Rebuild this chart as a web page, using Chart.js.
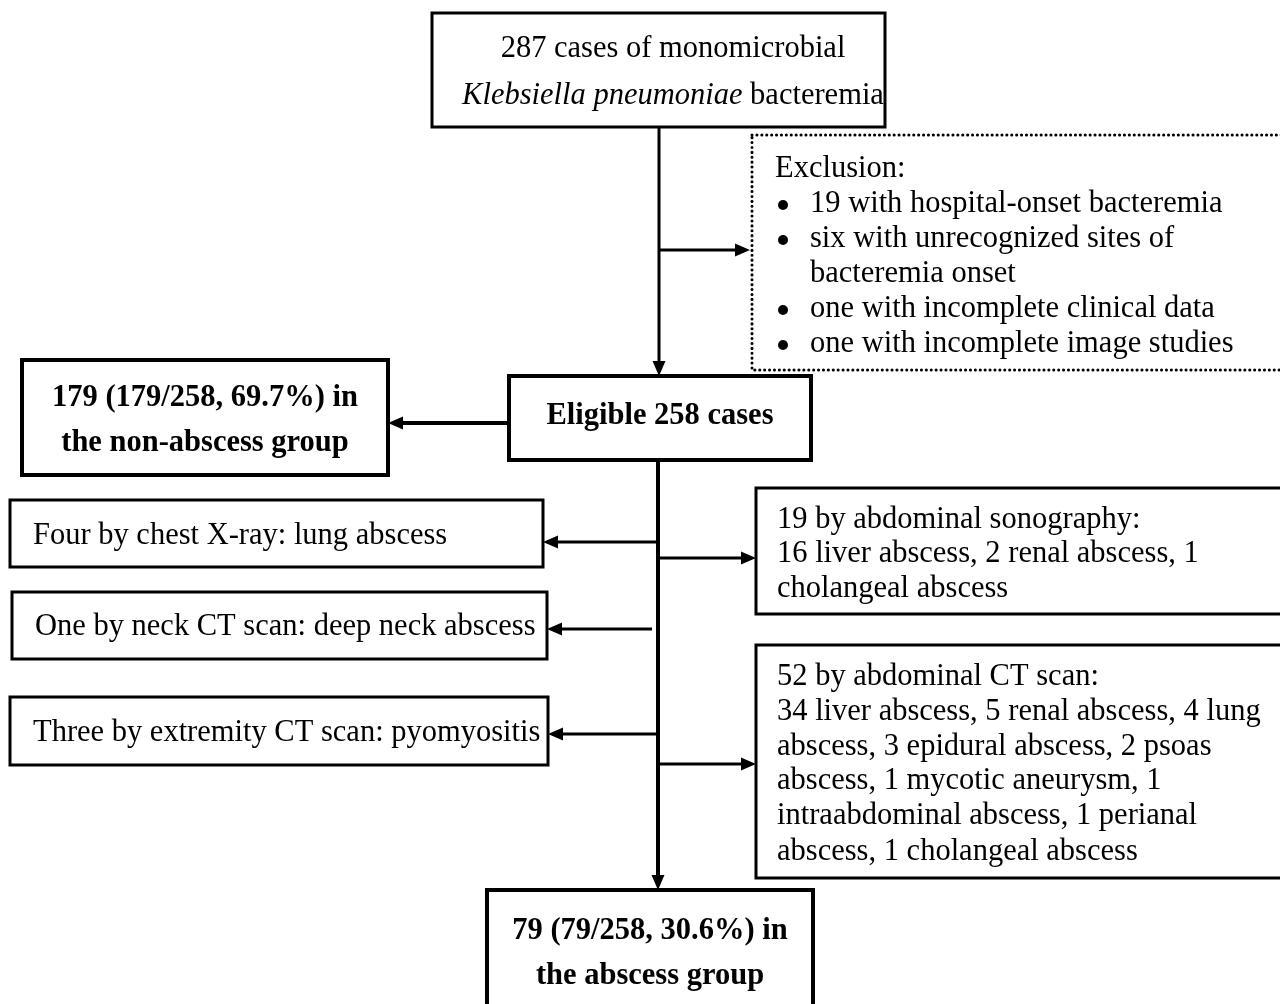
<!DOCTYPE html>
<html>
<head>
<meta charset="utf-8">
<script src="https://cdn.jsdelivr.net/npm/chart.js@4.4.1/dist/chart.umd.min.js"></script>
<style>
html, body { margin: 0; padding: 0; background: #fff; }
#wrap { width: 1280px; height: 1004px; }
</style>
</head>
<body>
<div id="wrap"><canvas id="flow"></canvas></div>
<script>
// flowchart texts (data)
const topLines = ['287 cases of monomicrobial', '*Klebsiella pneumoniae* bacteremia']
const exclusionTitle = 'Exclusion:'
const exclusionItems = [
    ['19 with hospital-onset bacteremia'],
    ['six with unrecognized sites of', 'bacteremia onset'],
    ['one with incomplete clinical data'],
    ['one with incomplete image studies']
]
const eligibleLines = ['Eligible 258 cases']
const nonAbscessLines = ['179 (179/258, 69.7%) in', 'the non-abscess group']
const leftFindings = [
    'Four by chest X-ray: lung abscess',
    'One by neck CT scan: deep neck abscess',
    'Three by extremity CT scan: pyomyositis'
]
const sonoLines = [
    '19 by abdominal sonography:',
    '16 liver abscess, 2 renal abscess, 1',
    'cholangeal abscess'
]
const ctLines = [
    '52 by abdominal CT scan:',
    '34 liver abscess, 5 renal abscess, 4 lung',
    'abscess, 3 epidural abscess, 2 psoas',
    'abscess, 1 mycotic aneurysm, 1',
    'intraabdominal abscess, 1 perianal',
    'abscess, 1 cholangeal abscess'
]
const abscessLines = ['79 (79/258, 30.6%) in', 'the abscess group']

// layout in chart units (x 0..1280, y 0..1004 top-down)
const layout = {
    top: { box: [432, 13, 885, 127], lw: 3, lines: [49, 96], textX: 673 },
    excl: { box: [752, 135, 1295, 370], lines: [169, 204, 239, 274, 309, 344] },
    eligible: { box: [509, 376, 811, 460], lw: 4, lines: [416] },
    nonAbscess: { box: [22, 360, 388, 475], lw: 4, lines: [398, 443] },
    left: [
        { box: [10, 500, 543, 567], lw: 3, y: 536, arrowY: 542, from: 657 },
        { box: [12, 592, 547, 659], lw: 3, y: 627, arrowY: 629, from: 652 },
        { box: [10, 697, 548, 765], lw: 3, y: 733, arrowY: 734, from: 657 }
    ],
    sono: { box: [756, 488, 1295, 614], lw: 3, lines: [520, 554, 589], arrowY: 558 },
    ct: { box: [756, 645, 1295, 878], lw: 3, lines: [677, 712, 747, 781, 816, 852], arrowY: 764 },
    abscess: { box: [487, 890, 813, 1012], lw: 4, lines: [931, 976] }
}

const FONT = '"Liberation Serif", "Times New Roman", serif'
const SIZE = 30.5

const flowPlugin = {
    id: 'flow',
    afterDraw(chart) {
        const ctx = chart.ctx
        const sx = chart.scales.x, sy = chart.scales.y
        const X = v => sx.getPixelForValue(v)
        const Y = v => sy.getPixelForValue(v)
        ctx.save()
        ctx.fillStyle = '#000'
        ctx.strokeStyle = '#000'
        ctx.textBaseline = 'middle'

        const rect = (b, lw, dash) => {
            ctx.lineWidth = lw
            ctx.setLineDash(dash || [])
            ctx.lineCap = dash ? 'round' : 'butt'
            ctx.strokeRect(X(b[0]), Y(b[1]), X(b[2]) - X(b[0]), Y(b[3]) - Y(b[1]))
            ctx.setLineDash([])
            ctx.lineCap = 'butt'
        }
        const line = (x0, y0, x1, y1, lw) => {
            ctx.lineWidth = lw
            ctx.beginPath()
            ctx.moveTo(X(x0), Y(y0))
            ctx.lineTo(X(x1), Y(y1))
            ctx.stroke()
        }
        const head = (x, y, dir) => {
            const L = 15, W = 6.5
            const px = X(x), py = Y(y)
            ctx.beginPath()
            if (dir === 'd') { ctx.moveTo(px, py); ctx.lineTo(px - W, py - L); ctx.lineTo(px + W, py - L) }
            if (dir === 'r') { ctx.moveTo(px, py); ctx.lineTo(px - L, py - W); ctx.lineTo(px - L, py + W) }
            if (dir === 'l') { ctx.moveTo(px, py); ctx.lineTo(px + L, py - W); ctx.lineTo(px + L, py + W) }
            ctx.closePath()
            ctx.fill()
        }
        const arrow = (x0, y0, x1, y1, lw, dir) => {
            const back = 12
            let ex = x1, ey = y1
            if (dir === 'd') ey = y1 - back
            if (dir === 'r') ex = x1 - back
            if (dir === 'l') ex = x1 + back
            line(x0, y0, ex, ey, lw)
            head(x1, y1, dir)
        }
        // rich line: *italic* segments
        const richText = (str, cx, y, align, bold) => {
            const parts = str.split('*')
            const fonts = parts.map((p, i) => (i % 2 ? 'italic ' : '') + (bold ? 'bold ' : '') + SIZE + 'px ' + FONT)
            let total = 0
            const widths = parts.map((p, i) => { ctx.font = fonts[i]; const w = ctx.measureText(p).width; total += w; return w })
            let x = align === 'center' ? X(cx) - total / 2 : X(cx)
            ctx.textAlign = 'left'
            parts.forEach((p, i) => { ctx.font = fonts[i]; ctx.fillText(p, x, Y(y)); x += widths[i] })
        }
        const centered = (node, lines, bold) => {
            const cx = node.textX || (node.box[0] + node.box[2]) / 2
            lines.forEach((t, i) => richText(t, cx, node.lines[i], 'center', bold))
        }

        rect(layout.top.box, layout.top.lw)
        centered(layout.top, topLines, false)

        rect(layout.excl.box, 3, [0.1, 4.8])
        richText(exclusionTitle, 775, layout.excl.lines[0], 'left', false)
        let li = 1
        exclusionItems.forEach(item => {
            item.forEach((t, j) => {
                const yy = layout.excl.lines[li++]
                if (j === 0) {
                    ctx.beginPath()
                    ctx.arc(X(783), Y(yy + 1), 5, 0, Math.PI * 2)
                    ctx.fill()
                }
                richText(t, 810, yy, 'left', false)
            })
        })

        rect(layout.eligible.box, layout.eligible.lw)
        centered(layout.eligible, eligibleLines, true)

        rect(layout.nonAbscess.box, layout.nonAbscess.lw)
        centered(layout.nonAbscess, nonAbscessLines, true)

        layout.left.forEach((n, i) => {
            rect(n.box, n.lw)
            richText(leftFindings[i], n.box[0] + 23, n.y, 'left', false)
            arrow(n.from, n.arrowY, n.box[2], n.arrowY, 3, 'l')
        })

        rect(layout.sono.box, layout.sono.lw)
        sonoLines.forEach((t, i) => richText(t, 777, layout.sono.lines[i], 'left', false))
        arrow(658, layout.sono.arrowY, layout.sono.box[0], layout.sono.arrowY, 3, 'r')

        rect(layout.ct.box, layout.ct.lw)
        ctLines.forEach((t, i) => richText(t, 777, layout.ct.lines[i], 'left', false))
        arrow(658, layout.ct.arrowY, layout.ct.box[0], layout.ct.arrowY, 3, 'r')

        rect(layout.abscess.box, layout.abscess.lw)
        centered(layout.abscess, abscessLines, true)

        // connectors
        arrow(659, 127, 659, 376, 3, 'd')
        arrow(659, 250, 750, 250, 3, 'r')
        arrow(509, 423, 388, 423, 4, 'l')
        arrow(658, 460, 658, 890, 4, 'd')

        ctx.restore()
    }
}

new Chart(document.getElementById('flow').getContext('2d'), {
    type: 'scatter',
    data: { datasets: [{ data: [], pointRadius: 0 }] },
    options: {
        responsive: true,
        maintainAspectRatio: false,
        animation: false,
        layout: { padding: 0 },
        plugins: { legend: { display: false }, tooltip: { enabled: false } },
        scales: {
            x: { type: 'linear', min: 0, max: 1280, display: false },
            y: { type: 'linear', min: 0, max: 1004, reverse: true, display: false }
        }
    },
    plugins: [flowPlugin]
})
</script>
</body>
</html>
